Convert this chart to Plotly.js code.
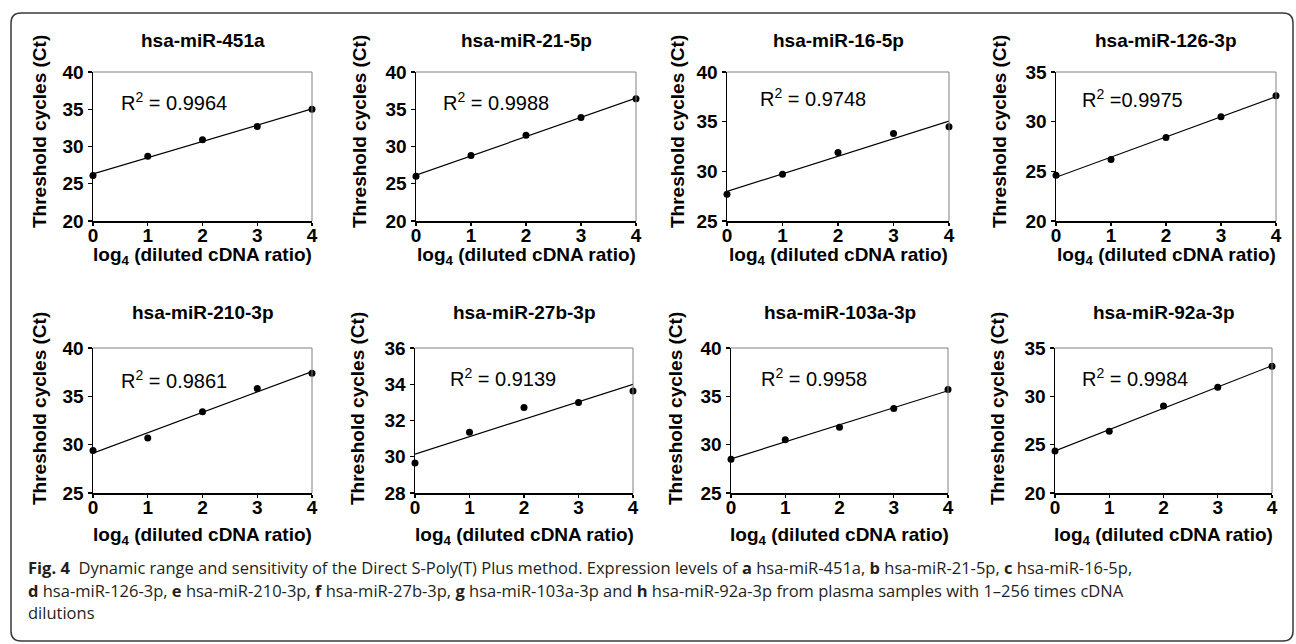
<!DOCTYPE html>
<html>
<head>
<meta charset="utf-8">
<script src="https://cdn.plot.ly/plotly-3.0.1.min.js"></script>
<style>
  html, body { margin: 0; padding: 0; background: #ffffff; }
  #chart { width: 1296px; height: 644px; }
</style>
</head>
<body>
<div id="chart"></div>
<script>
// ---------------- data ----------------
const panelTitles = ['hsa-miR-451a', 'hsa-miR-21-5p', 'hsa-miR-16-5p', 'hsa-miR-126-3p',
                     'hsa-miR-210-3p', 'hsa-miR-27b-3p', 'hsa-miR-103a-3p', 'hsa-miR-92a-3p'];
const dilutionLog4 = [0, 1, 2, 3, 4];
const xTickLabels = ['0', '1', '2', '3', '4'];
const ct451a  = [26.1, 28.7, 30.9, 32.7, 35.0];
const ct21    = [26.0, 28.8, 31.5, 33.9, 36.4];
const ct16    = [27.7, 29.7, 31.9, 33.8, 34.5];
const ct126   = [24.6, 26.2, 28.4, 30.5, 32.6];
const ct210   = [29.4, 30.7, 33.4, 35.8, 37.4];
const ct27b   = [29.65, 31.35, 32.72, 33.0, 33.63];
const ct103a  = [28.5, 30.5, 31.8, 33.75, 35.7];
const ct92a   = [24.35, 26.4, 29.0, 30.95, 33.1];
const r2Labels = ['R<sup>2</sup> = 0.9964', 'R<sup>2</sup> = 0.9988', 'R<sup>2</sup> = 0.9748', 'R<sup>2</sup> =0.9975',
                  'R<sup>2</sup> = 0.9861', 'R<sup>2</sup> = 0.9139', 'R<sup>2</sup> = 0.9958', 'R<sup>2</sup> = 0.9984'];
const yRanges = [[20, 40], [20, 40], [25, 40], [20, 35], [25, 40], [28, 36], [25, 40], [20, 35]];
const yDticks = [5, 5, 5, 5, 5, 2, 5, 5];
const yTitle = 'Threshold cycles (Ct)';
const xTitle = 'log<sub>4</sub> (diluted cDNA ratio)';
const captionLines = [
  '<b>Fig. 4</b>\u00a0 Dynamic range and sensitivity of the Direct S-Poly(T) Plus method. Expression levels of <b>a</b> hsa-miR-451a, <b>b</b> hsa-miR-21-5p, <b>c</b> hsa-miR-16-5p,',
  '<b>d</b> hsa-miR-126-3p, <b>e</b> hsa-miR-210-3p, <b>f</b> hsa-miR-27b-3p, <b>g</b> hsa-miR-103a-3p and <b>h</b> hsa-miR-92a-3p from plasma samples with 1–256 times cDNA',
  'dilutions'
];
const ctSeries = [ct451a, ct21, ct16, ct126, ct210, ct27b, ct103a, ct92a];

// ---------------- layout geometry (pixels) ----------------
const W = 1296, H = 644;
const boxes = [ // [left, right, top, bottom]
  [93, 312, 72, 221], [416, 636, 72, 221], [727, 949, 72, 221], [1056, 1276, 72, 221],
  [93, 312, 348, 493], [415, 633, 348, 493], [731, 948, 348, 493], [1055, 1272, 348, 493]
];
const r2Pos = [[0.12, 0.80], [0.115, 0.80], [0.14, 0.83], [0.11, 0.82],
               [0.12, 0.78], [0.153, 0.80], [0.127, 0.795], [0.115, 0.80]];
const yTitleX = [39, 359, 677, 999, 40, 358, 676, 998];
const px = p => p / W;
const py = p => 1 - p / H;

const FONT = 'Liberation Sans, Arial, Helvetica, sans-serif';
const traces = [];
const layout = {
  width: W, height: H,
  margin: {l: 0, r: 0, t: 0, b: 0},
  paper_bgcolor: '#ffffff', plot_bgcolor: '#ffffff',
  showlegend: false,
  font: {family: FONT, color: '#000000'},
  annotations: [], shapes: []
};

function linFit(xs, ys) {
  const n = xs.length;
  const mx = xs.reduce((a, b) => a + b, 0) / n;
  const my = ys.reduce((a, b) => a + b, 0) / n;
  let sxy = 0, sxx = 0;
  for (let i = 0; i < n; i++) { sxy += (xs[i] - mx) * (ys[i] - my); sxx += (xs[i] - mx) ** 2; }
  const b = sxy / sxx;
  return {a: my - b * mx, b: b};
}

ctSeries.forEach((ys, i) => {
  const n = i + 1;
  const xa = 'x' + (n === 1 ? '' : n), ya = 'y' + (n === 1 ? '' : n);
  const xKey = 'xaxis' + (n === 1 ? '' : n), yKey = 'yaxis' + (n === 1 ? '' : n);
  const [l, r, t, b] = boxes[i];
  const fit = linFit(dilutionLog4, ys);
  const x0 = dilutionLog4[0], x1 = dilutionLog4[dilutionLog4.length - 1];

  traces.push({
    x: [x0, x1], y: [fit.a + fit.b * x0, fit.a + fit.b * x1],
    xaxis: xa, yaxis: ya, mode: 'lines', type: 'scatter',
    line: {color: '#000000', width: 1.2}, hoverinfo: 'skip', cliponaxis: false
  });
  traces.push({
    x: dilutionLog4, y: ys, xaxis: xa, yaxis: ya, mode: 'markers', type: 'scatter',
    marker: {color: '#000000', size: 7}, cliponaxis: false, name: panelTitles[i]
  });

  layout[xKey] = {
    domain: [px(l), px(r)], anchor: ya, range: [0, 4],
    tickmode: 'array', tickvals: dilutionLog4, ticktext: xTickLabels,
    tickprefix: '<b>', ticksuffix: '</b>',
    ticks: 'outside', ticklen: 3, tickwidth: 1.3, tickcolor: '#000000',
    ticklabelstandoff: -6,
    showline: true, linecolor: '#000000', linewidth: 1.5, mirror: false,
    showgrid: false, zeroline: false, fixedrange: true,
    tickfont: {family: FONT, size: 19, weight: 'bold', color: '#000000'}
  };
  layout[yKey] = {
    domain: [py(b), py(t)], anchor: xa, range: yRanges[i],
    tick0: yRanges[i][0], dtick: yDticks[i],
    tickprefix: '<b>', ticksuffix: '</b>',
    ticks: 'outside', ticklen: 4, tickwidth: 1.3, tickcolor: '#000000',
    showline: true, linecolor: '#000000', linewidth: 1.5, mirror: false,
    showgrid: false, zeroline: false, fixedrange: true,
    tickfont: {family: FONT, size: 19, weight: 'bold', color: '#000000'}
  };

  // gray top and right frame lines
  layout.shapes.push({type: 'line', xref: xa + ' domain', yref: ya + ' domain', x0: 0, x1: 1, y0: 1, y1: 1,
                      line: {color: '#808080', width: 1}});
  layout.shapes.push({type: 'line', xref: xa + ' domain', yref: ya + ' domain', x0: 1, x1: 1, y0: 0, y1: 1,
                      line: {color: '#808080', width: 1}});

  const titleY = i < 4 ? 40 : 312;
  const xTitleY = i < 4 ? 256 : 536;
  const yTitleC = i < 4 ? 132 : 409;
  layout.annotations.push({
    text: '<b>' + panelTitles[i] + '</b>', xref: 'paper', yref: 'paper',
    x: px((l + r) / 2), y: py(titleY), xanchor: 'center', yanchor: 'middle', showarrow: false,
    font: {family: FONT, size: 19, color: '#000000'}
  });
  layout.annotations.push({
    text: '<b>' + xTitle + '</b>', xref: 'paper', yref: 'paper',
    x: px((l + r) / 2), y: py(xTitleY), xanchor: 'center', yanchor: 'middle', showarrow: false,
    font: {family: FONT, size: 19, color: '#000000'}
  });
  layout.annotations.push({
    text: '<b>' + yTitle + '</b>', xref: 'paper', yref: 'paper', textangle: -90,
    x: px(yTitleX[i]), y: py(yTitleC), xanchor: 'center', yanchor: 'middle', showarrow: false,
    font: {family: FONT, size: 19, color: '#000000'}
  });
  layout.annotations.push({
    text: r2Labels[i], xref: xa + ' domain', yref: ya + ' domain',
    x: r2Pos[i][0], y: r2Pos[i][1], xanchor: 'left', yanchor: 'middle', showarrow: false,
    font: {family: FONT, size: 20, color: '#000000'}
  });
});

// caption
const capY = [567, 590, 612];
captionLines.forEach((txt, k) => {
  layout.annotations.push({
    text: txt, xref: 'paper', yref: 'paper', x: px(26), y: py(capY[k]),
    xanchor: 'left', yanchor: 'middle', align: 'left', showarrow: false,
    font: {family: 'Open Sans, Noto Sans, sans-serif', size: 16.5, color: '#231f20'}
  });
});

// outer rounded border
(function () {
  const L = 11, R = 1293, T = 13, B = 641, rr = 10;
  const p = (a, b) => px(a) + ',' + py(b);
  const path = 'M ' + p(L + rr, T) + ' L ' + p(R - rr, T) + ' Q ' + p(R, T) + ' ' + p(R, T + rr) +
    ' L ' + p(R, B - rr) + ' Q ' + p(R, B) + ' ' + p(R - rr, B) +
    ' L ' + p(L + rr, B) + ' Q ' + p(L, B) + ' ' + p(L, B - rr) +
    ' L ' + p(L, T + rr) + ' Q ' + p(L, T) + ' ' + p(L + rr, T) + ' Z';
  layout.shapes.push({type: 'path', xref: 'paper', yref: 'paper', path: path,
                      line: {color: '#3a3a3a', width: 1.5}, fillcolor: 'rgba(0,0,0,0)', layer: 'below'});
})();

Plotly.newPlot('chart', traces, layout, {displayModeBar: false, staticPlot: true});
</script>
</body>
</html>
